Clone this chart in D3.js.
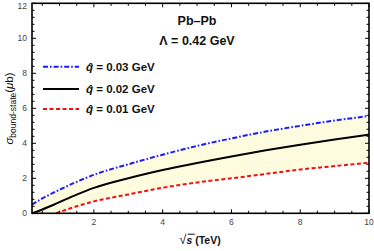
<!DOCTYPE html>
<html><head><meta charset="utf-8">
<script src="https://cdn.jsdelivr.net/npm/d3@7"></script>
<style>body{margin:0;background:#fff}svg{display:block}text{font-family:"Liberation Sans",Arial,sans-serif}</style>
</head><body><svg id="c" width="374" height="251"></svg>
<script>
// data
const sqrtS   = [0.2, 0.5, 0.9, 1.5, 2, 3, 4, 5, 6, 7, 8, 9, 10];
const qhat003 = [0.5, 0.85, 1.25, 1.8, 2.2, 2.8, 3.35, 3.85, 4.28, 4.67, 5.0, 5.3, 5.56];
const qhat002 = [0.0, 0.22, 0.55, 1.07, 1.45, 2.0, 2.47, 2.88, 3.25, 3.6, 3.92, 4.22, 4.5];
const qhat001 = [null, null, 0.0, 0.4, 0.68, 1.08, 1.46, 1.76, 2.0, 2.25, 2.5, 2.7, 2.89];
const xTicks = [2, 4, 6, 8, 10];
const yTicks = [0, 2, 4, 6, 8, 10, 12];
const legendLabels = ["= 0.03 GeV", "= 0.02 GeV", "= 0.01 GeV"];

const svg = d3.select("#c");
const L = 32, R = 369, T = 3.3, B = 213.3;
const x = d3.scaleLinear().domain([0.2, 10]).range([L, R]);
const y = d3.scaleLinear().domain([0, 12]).range([B, T]);

// band
const band = sqrtS.map((s, i) => ({s, lo: qhat001[i] == null ? 0 : Math.max(0, qhat001[i]), hi: qhat003[i]}));
svg.append("path").datum(band)
  .attr("d", d3.area().x(d => x(d.s)).y0(d => y(d.lo)).y1(d => y(d.hi)).curve(d3.curveMonotoneX))
  .attr("fill", "#fefbde");

const series = [
  {vals: qhat003, color: "#1a1aff", dash: "5,2,1.6,2"},
  {vals: qhat002, color: "#000", dash: null},
  {vals: qhat001, color: "#f01010", dash: "4,2.5"}
];
series.forEach(sr => {
  const pts = sqrtS.map((s, i) => ({s, v: sr.vals[i]}));
  svg.append("path").datum(pts)
    .attr("d", d3.line().defined(d => d.v != null).x(d => x(d.s)).y(d => y(d.v)).curve(d3.curveMonotoneX))
    .attr("fill", "none").attr("stroke", sr.color).attr("stroke-width", 2)
    .attr("stroke-dasharray", sr.dash);
});

// axes with inside ticks
const g = svg.append("g");
function axisTicks(orient) {
  if (orient === "bottom" || orient === "top") {
    const yy = orient === "bottom" ? B : T, dir = orient === "bottom" ? -1 : 1;
    d3.range(0.5, 10.01, 0.5).forEach(v => {
      const major = Math.abs(v % 2) < 1e-6;
      g.append("line").attr("x1", x(v)).attr("x2", x(v)).attr("y1", yy).attr("y2", yy + dir * (major ? 4 : 2.5))
        .attr("stroke", "#000").attr("stroke-width", 1);
    });
  } else {
    const xx = orient === "left" ? L : R, dir = orient === "left" ? 1 : -1;
    d3.range(0, 12.01, 0.4).forEach(v => {
      const major = Math.abs(v / 2 - Math.round(v / 2)) < 1e-6;
      g.append("line").attr("y1", y(v)).attr("y2", y(v)).attr("x1", xx).attr("x2", xx + dir * (major ? 4 : 2.5))
        .attr("stroke", "#000").attr("stroke-width", 1);
    });
  }
}
["bottom", "top", "left", "right"].forEach(axisTicks);
svg.append("rect").attr("x", L).attr("y", T).attr("width", R - L).attr("height", B - T)
  .attr("fill", "none").attr("stroke", "#000").attr("stroke-width", 1.6);

// tick labels
svg.selectAll(".xt").data(xTicks).enter().append("text")
  .attr("x", d => x(d)).attr("y", 225).attr("text-anchor", "middle")
  .attr("font-size", 8.5).attr("fill", "#444").text(d => d);
svg.selectAll(".yt").data(yTicks).enter().append("text")
  .attr("x", 27).attr("y", d => Math.max(y(d) + 3, 8.5)).attr("text-anchor", "end")
  .attr("font-size", 8.5).attr("fill", "#444").text(d => d);

// axis titles
const xt = svg.append("text").attr("x", 200).attr("y", 244).attr("text-anchor", "middle")
  .attr("font-size", 10.5).attr("font-weight", "bold").attr("fill", "#111");
xt.append("tspan").attr("font-size", 13).attr("font-weight", "normal").text("√");
xt.append("tspan").attr("font-style", "italic").text("s");
xt.append("tspan").text("  (TeV)");
{
  const bb = xt.node().getBBox();
  svg.append("line").attr("x1", bb.x + 8.5).attr("x2", bb.x + 15.5).attr("y1", bb.y + 2.2).attr("y2", bb.y + 2.2)
    .attr("stroke", "#111").attr("stroke-width", 1);
}
const yt = svg.append("text").attr("transform", "translate(13,108.5) rotate(-90)").attr("text-anchor", "middle")
  .attr("fill", "#111").attr("font-size", 11.5);
yt.append("tspan").attr("font-style", "italic").text("σ");
yt.append("tspan").attr("font-size", 8.5).attr("dy", 3).text("bound-state");
yt.append("tspan").attr("dy", -3).text("(");
yt.append("tspan").attr("font-style", "italic").text("μ");
yt.append("tspan").text("b)");

// annotations
svg.append("text").attr("x", 197).attr("y", 25).attr("text-anchor", "middle")
  .attr("font-size", 12.5).attr("font-weight", "bold").attr("fill", "#111").text("Pb–Pb");
svg.append("text").attr("x", 197).attr("y", 45).attr("text-anchor", "middle")
  .attr("font-size", 12.5).attr("font-weight", "bold").attr("fill", "#111").text("Λ = 0.42 GeV");

// legend
const legY = [66.7, 89, 109];
series.forEach((sr, i) => {
  svg.append("line").attr("x1", 43).attr("x2", 79).attr("y1", legY[i]).attr("y2", legY[i])
    .attr("stroke", sr.color).attr("stroke-width", 2).attr("stroke-dasharray", sr.dash);
  const t = svg.append("text").attr("x", 86).attr("y", legY[i] + 4).attr("font-size", 11.5)
    .attr("font-weight", "bold").attr("fill", "#111");
  t.append("tspan").attr("font-style", "italic").text("q\u0302");
  t.append("tspan").text(" " + legendLabels[i]);
});
</script></body></html>
